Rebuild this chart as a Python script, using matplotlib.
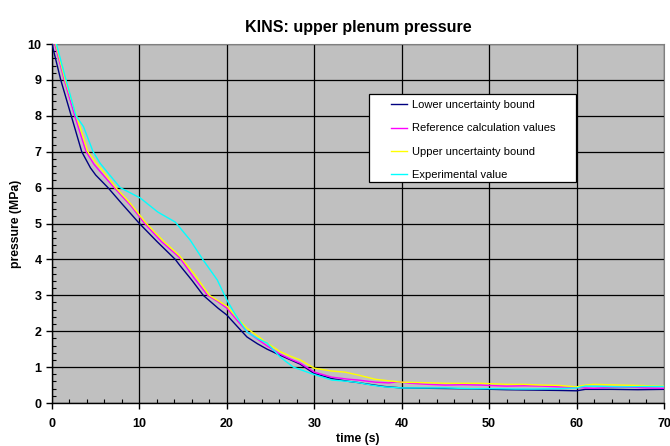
import matplotlib
matplotlib.use("Agg")
import matplotlib.pyplot as plt
from matplotlib.patches import Rectangle
from matplotlib.ticker import MultipleLocator

plt.rcParams['font.family'] = ['Liberation Sans', 'DejaVu Sans']

# lower uncertainty bound
low_t = [0, 1.0, 2.2, 3.4, 4.4, 5.0, 6.4, 8.0, 10.0, 12.0, 14.1, 14.6, 16.0, 17.3, 19.0, 20.0,
         21.5, 22.3, 23.5, 24.6, 26.1, 27.3, 28.4, 30.0, 32.0, 34.0, 35.0, 36.0, 38.0, 40.0,
         43.0, 46.0, 48.9, 52.0, 55.0, 58.0, 60.0, 61.0, 64.0, 67.0, 70.0]
low_p = [10.0, 9.0, 8.0, 7.0, 6.55, 6.35, 6.0, 5.55, 5.0, 4.5, 4.0, 3.84, 3.42, 3.0, 2.64, 2.45,
         2.05, 1.84, 1.65, 1.50, 1.33, 1.20, 1.08, 0.82, 0.68, 0.60, 0.57, 0.53, 0.46, 0.42,
         0.41, 0.40, 0.39, 0.37, 0.36, 0.35, 0.34, 0.38, 0.38, 0.37, 0.38]

# reference calculation
ref_t = [0, 1.4, 2.6, 3.9, 4.8, 5.5, 7.1, 9.0, 10.6, 12.5, 14.6, 16.2, 17.8, 19.0, 20.0, 21.0,
         22.3, 23.5, 24.6, 26.1, 27.3, 28.4, 30.0, 32.0, 34.0, 35.0, 37.0, 38.5, 39.5, 41.0,
         43.0, 45.0, 47.0, 49.0, 52.0, 54.0, 56.0, 58.0, 60.0, 62.0, 64.0, 66.0, 68.0, 70.0]
ref_p = [10.3, 9.0, 8.0, 7.0, 6.65, 6.45, 6.0, 5.5, 5.0, 4.5, 4.05, 3.5, 3.0, 2.82, 2.64, 2.35,
         1.99, 1.78, 1.59, 1.36, 1.22, 1.11, 0.86, 0.72, 0.66, 0.64, 0.58, 0.56, 0.59, 0.55,
         0.52, 0.50, 0.51, 0.50, 0.47, 0.48, 0.47, 0.45, 0.43, 0.41, 0.44, 0.44, 0.42, 0.41]

# upper uncertainty bound
up_t = [0, 1.5, 2.8, 4.1, 5.0, 5.7, 7.3, 9.0, 10.8, 12.8, 14.6, 16.4, 18.0, 19.0, 20.0, 21.0,
        22.3, 23.5, 24.6, 26.1, 27.3, 28.4, 30.0, 32.0, 33.5, 35.0, 37.0, 38.5, 40.0, 42.0,
        45.0, 47.0, 49.0, 52.0, 54.0, 56.0, 58.0, 60.0, 61.0, 62.0, 65.0, 67.0, 70.0]
up_p = [10.4, 9.0, 8.0, 7.0, 6.7, 6.5, 6.0, 5.55, 5.0, 4.5, 4.1, 3.55, 3.0, 2.85, 2.7, 2.42,
        2.08, 1.87, 1.67, 1.43, 1.30, 1.20, 0.97, 0.89, 0.86, 0.78, 0.66, 0.62, 0.58, 0.57,
        0.55, 0.55, 0.55, 0.52, 0.52, 0.50, 0.49, 0.45, 0.50, 0.52, 0.50, 0.49, 0.47]

# measured pressure
exp_t = [0.5, 1.6, 2.75, 3.6, 4.7, 5.5, 6.6, 7.8, 10.1, 12.1, 14.1, 15.8, 17.3, 18.9, 20.0,
         21.0, 22.3, 23.5, 24.6, 26.1, 27.6, 29.9, 32.0, 34.0, 35.0, 36.5, 38.0, 40.0, 42.0,
         45.0, 48.0, 50.0, 53.0, 55.0, 58.0, 60.0, 61.0, 63.0, 65.0, 68.0, 70.0]
exp_p = [10.0, 9.0, 8.0, 7.7, 7.0, 6.68, 6.35, 6.0, 5.71, 5.32, 5.04, 4.54, 3.98, 3.43, 2.87,
         2.45, 1.98, 1.80, 1.67, 1.28, 1.0, 0.80, 0.64, 0.60, 0.57, 0.50, 0.45, 0.42, 0.42,
         0.42, 0.40, 0.40, 0.39, 0.39, 0.40, 0.42, 0.47, 0.46, 0.45, 0.46, 0.46]

series = [
    (low_t, low_p, '#000080', 'Lower uncertainty bound'),
    (ref_t, ref_p, '#FF00FF', 'Reference calculation values'),
    (up_t, up_p, '#FFFF00', 'Upper uncertainty bound'),
    (exp_t, exp_p, '#00FFFF', 'Experimental value'),
]

fig = plt.figure(figsize=(6.7, 4.46), dpi=100)
ax = fig.add_axes([0.0776, 0.0964, 0.9134, 0.8049])
ax.set_facecolor('#C0C0C0')

for t, p, c, lab in series:
    ax.plot(t, p, color=c, lw=1.0, label=lab, zorder=3)

ax.set_xlim(0, 70)
ax.set_ylim(0, 10)
ax.xaxis.set_major_locator(MultipleLocator(10))
ax.xaxis.set_minor_locator(MultipleLocator(2))
ax.yaxis.set_major_locator(MultipleLocator(1))
ax.yaxis.set_minor_locator(MultipleLocator(0.2))
ax.grid(True, which='major', color='black', lw=0.9, zorder=1)
ax.set_axisbelow(True)

ax.tick_params(which='major', direction='out', length=4, width=1, labelsize=9)
ax.tick_params(axis='x', which='major', pad=7)
ax.tick_params(axis='y', which='major', pad=3.5)
ax.tick_params(which='minor', direction='in', length=3, width=0.8)
for lbl in ax.get_xticklabels() + ax.get_yticklabels():
    lbl.set_fontweight('bold')

for s in ['top', 'right']:
    ax.spines[s].set_color('#808080')
for s in ['left', 'bottom']:
    ax.spines[s].set_color('black')
    ax.spines[s].set_linewidth(1.0)

ax.set_title('KINS: upper plenum pressure', fontsize=11.5, fontweight='bold', pad=9)
ax.set_xlabel('time (s)', fontsize=8.8, fontweight='bold', labelpad=2)
ax.set_ylabel('pressure (MPa)', fontsize=8.8, fontweight='bold', labelpad=4)

# legend box drawn separately so the entries can sit inset from its edge
ax.add_patch(Rectangle((0.518, 0.616), 0.338, 0.245, transform=ax.transAxes,
                       facecolor='white', edgecolor='black', lw=0.9, zorder=4))
leg = ax.legend(loc='upper left', bbox_to_anchor=(0.554, 0.843), fontsize=8,
                frameon=False, handlelength=1.45, handletextpad=0.45,
                labelspacing=1.18, borderpad=0, borderaxespad=0)
leg.set_zorder(5)

fig.savefig('out.png', dpi=100)
